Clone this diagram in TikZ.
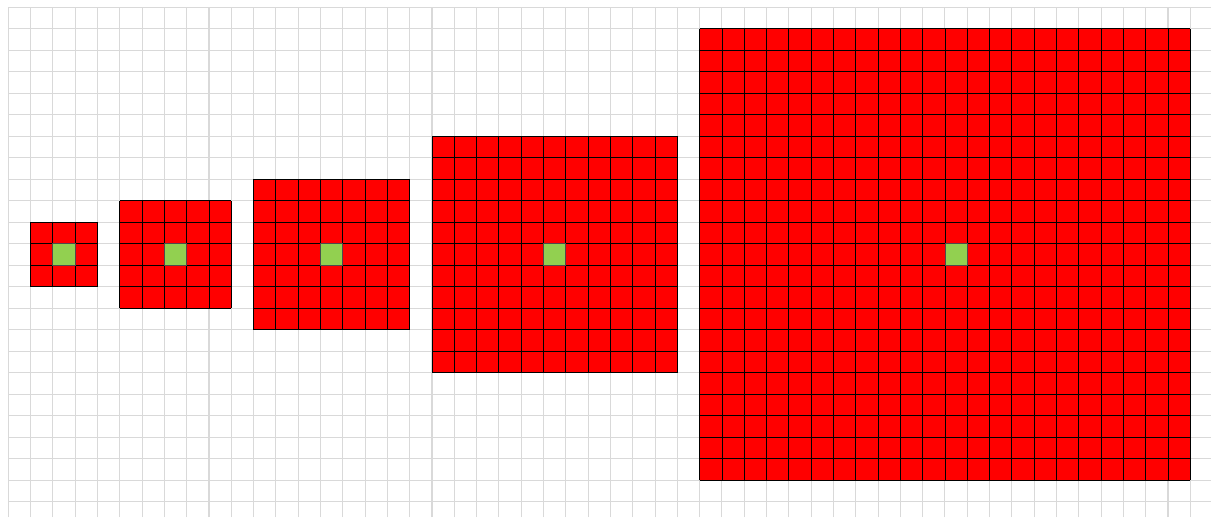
\documentclass[tikz,border=0pt]{standalone}
\usepackage{tikz}

\definecolor{gridgray}{HTML}{D9D9D9}
\definecolor{patchred}{HTML}{FF0000}
\definecolor{seedgreen}{HTML}{92D050}

\begin{document}
\begin{tikzpicture}[
  x=0.446cm,y=0.43cm,
  paper/.style={draw=gridgray,line width=0.6pt,step=1},
  patch/.style={fill=patchred},
  cellgrid/.style={draw=black,line width=0.5pt,step=1},
  seedcell/.style={fill=seedgreen,draw=black!70,line width=0.5pt}
]
\useasboundingbox (-0.372,-0.72) rectangle (53.93,23.33);
% background paper grid
\draw[paper] (0,-0.72) grid (53.93,23);
% growing windows around one cell
\foreach \xa/\ya/\xb/\yb/\xc in {1/10/4/13/2, 5/9/10/14/7, 11/8/18/15/14, 19/6/30/17/24, 31/1/53/22/42} {
  \fill[patch] (\xa,\ya) rectangle (\xb,\yb);
  \draw[cellgrid] (\xa,\ya) grid (\xb,\yb);
  \filldraw[seedcell] (\xc,11) rectangle ++(1,1);
}
\end{tikzpicture}
\end{document}
